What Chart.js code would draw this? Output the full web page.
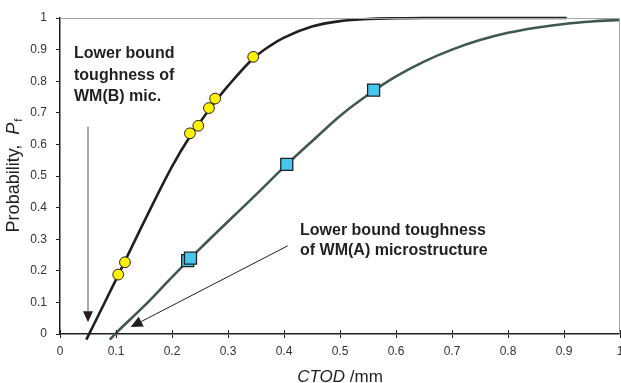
<!DOCTYPE html>
<html>
<head>
<meta charset="utf-8">
<script src="https://cdn.jsdelivr.net/npm/chart.js@4.4.0/dist/chart.umd.min.js"></script>
<style>
    html, body { margin: 0; padding: 0; background: #fff; }
</style>
</head>
<body>
<canvas id="grafico" width="621" height="383"></canvas>
<script>
// Curvas ajustadas: CTOD em mm, probabilidade Pf
const curvaB_x = [0.047, 0.10, 0.15, 0.20, 0.232, 0.25, 0.275, 0.30, 0.345, 0.375, 0.40, 0.45, 0.50, 0.55, 0.60, 0.65, 0.905];
const curvaB_p = [-0.018, 0.172, 0.355, 0.53, 0.625, 0.67, 0.73, 0.785, 0.872, 0.912, 0.938, 0.973, 0.99, 0.997, 0.999, 1.0, 1.0];
const curvaA_x = [0.089, 0.10, 0.15, 0.20, 0.25, 0.30, 0.35, 0.40, 0.45, 0.50, 0.55, 0.60, 0.65, 0.70, 0.75, 0.80, 0.85, 0.90, 0.95, 1.00];
const curvaA_p = [-0.018, 0.003, 0.088, 0.18, 0.27, 0.356, 0.441, 0.528, 0.61, 0.69, 0.757, 0.815, 0.862, 0.90, 0.93, 0.953, 0.969, 0.981, 0.989, 0.994];

// Resultados de ensaio
const pontosB_x = [0.104, 0.116, 0.232, 0.247, 0.266, 0.277, 0.345];
const pontosB_p = [0.188, 0.227, 0.635, 0.659, 0.715, 0.745, 0.877];
const pontosA_x = [0.228, 0.233, 0.405, 0.560];
const pontosA_p = [0.232, 0.240, 0.537, 0.772];

const rotulosX = ['0', '0.1', '0.2', '0.3', '0.4', '0.5', '0.6', '0.7', '0.8', '0.9', '1'];
const rotulosY = ['0', '0.1', '0.2', '0.3', '0.4', '0.5', '0.6', '0.7', '0.8', '0.9', '1'];

const FONTE = '"Liberation Sans", Arial, sans-serif';

const juntar = (xs, ys) => xs.map((x, i) => ({ x, y: ys[i] }));

// Anotações (em unidades de dados)
const notas = [
    { x: 0.025, y: 0.873, linhas: ['Lower bound', 'toughness of', 'WM(B) mic.'], passo: 21.4 },
    { x: 0.4286, y: 0.314, linhas: ['Lower bound toughness', 'of WM(A) microstructure'], passo: 20.7 }
];
const setas = [
    { de: [0.05, 0.656], ate: [0.05, 0.037], cor: '#8a8a8a', largura: 1.5, comp: 11, meia: 5 },
    { de: [0.4066, 0.279], ate: [0.126, 0.022], cor: '#231f20', largura: 1, comp: 12, meia: 5.5 }
];

function desenharSeta(ctx, x1, y1, x2, y2, s) {
    const ang = Math.atan2(y2 - y1, x2 - x1);
    const bx = x2 - s.comp * Math.cos(ang);
    const by = y2 - s.comp * Math.sin(ang);
    ctx.strokeStyle = s.cor;
    ctx.lineWidth = s.largura;
    ctx.beginPath();
    ctx.moveTo(x1, y1);
    ctx.lineTo(bx, by);
    ctx.stroke();
    ctx.fillStyle = '#231f20';
    ctx.beginPath();
    ctx.moveTo(x2, y2);
    ctx.lineTo(bx + s.meia * Math.sin(ang), by - s.meia * Math.cos(ang));
    ctx.lineTo(bx - s.meia * Math.sin(ang), by + s.meia * Math.cos(ang));
    ctx.closePath();
    ctx.fill();
}

const extras = {
    id: 'extras',
    afterDraw(chart) {
        const { ctx, chartArea: a, scales: { x, y } } = chart;
        ctx.save();

        // moldura cinza (topo e direita)
        ctx.strokeStyle = '#a6a6a6';
        ctx.lineWidth = 1;
        ctx.beginPath();
        ctx.moveTo(a.left, a.top + 0.5);
        ctx.lineTo(a.right - 0.5, a.top + 0.5);
        ctx.lineTo(a.right - 0.5, a.bottom);
        ctx.stroke();

        // marcas do eixo x atravessando o eixo
        ctx.strokeStyle = '#231f20';
        ctx.beginPath();
        x.ticks.forEach(t => {
            const px = Math.round(x.getPixelForValue(t.value)) + 0.5;
            ctx.moveTo(px, a.bottom - 4);
            ctx.lineTo(px, a.bottom);
        });
        ctx.stroke();

        // setas
        setas.forEach(s => {
            desenharSeta(ctx,
                x.getPixelForValue(s.de[0]), y.getPixelForValue(s.de[1]),
                x.getPixelForValue(s.ate[0]), y.getPixelForValue(s.ate[1]), s);
        });

        // textos
        ctx.fillStyle = '#231f20';
        ctx.font = 'bold 16px ' + FONTE;
        ctx.textAlign = 'left';
        ctx.textBaseline = 'alphabetic';
        notas.forEach(n => {
            const px = x.getPixelForValue(n.x);
            const py = y.getPixelForValue(n.y);
            n.linhas.forEach((l, i) => ctx.fillText(l, px, py + i * n.passo));
        });

        // título do eixo x: CTOD /mm
        ctx.fillStyle = '#231f20';
        const cx = (a.left + a.right) / 2;
        ctx.font = 'italic 17px ' + FONTE;
        const w1 = ctx.measureText('CTOD').width;
        ctx.font = '17px ' + FONTE;
        const w2 = ctx.measureText(' /mm').width;
        let sx = cx - (w1 + w2) / 2;
        ctx.font = 'italic 17px ' + FONTE;
        ctx.fillText('CTOD', sx, 382);
        ctx.font = '17px ' + FONTE;
        ctx.fillText(' /mm', sx + w1, 382);

        // título do eixo y: Probability, Pf
        const cy = (a.top + a.bottom) / 2;
        ctx.translate(19, cy);
        ctx.rotate(-Math.PI / 2);
        ctx.font = '18px ' + FONTE;
        const t1 = 'Probability,  ';
        const l1 = ctx.measureText(t1).width;
        ctx.font = 'italic 18px ' + FONTE;
        const l2 = ctx.measureText('P').width;
        ctx.font = '11px ' + FONTE;
        const l3 = ctx.measureText('f').width;
        let ox = -(l1 + l2 + l3) / 2;
        ctx.font = '18px ' + FONTE;
        ctx.fillText(t1, ox, 0);
        ctx.font = 'italic 18px ' + FONTE;
        ctx.fillText('P', ox + l1, 0);
        ctx.font = '11px ' + FONTE;
        ctx.fillText('f', ox + l1 + l2 + 1, 3);

        ctx.restore();
    }
};

new Chart(document.getElementById('grafico').getContext('2d'), {
    type: 'scatter',
    data: {
        datasets: [
            {
                label: 'WM(B) ensaios',
                data: juntar(pontosB_x, pontosB_p),
                pointStyle: 'circle',
                pointRadius: 5.4,
                backgroundColor: '#fff200',
                borderColor: '#231f20',
                borderWidth: 1
            },
            {
                label: 'WM(A) ensaios',
                data: juntar(pontosA_x, pontosA_p),
                pointStyle: 'rect',
                pointRadius: 8.5,
                backgroundColor: '#45c8f0',
                borderColor: '#231f20',
                borderWidth: 1.3
            },
            {
                label: 'WM(B) ajuste',
                data: juntar(curvaB_x, curvaB_p),
                showLine: true,
                pointRadius: 0,
                borderColor: '#231f20',
                borderWidth: 2.6,
                cubicInterpolationMode: 'monotone',
                clip: false
            },
            {
                label: 'WM(A) ajuste',
                data: juntar(curvaA_x, curvaA_p),
                showLine: true,
                pointRadius: 0,
                borderColor: '#3f5852',
                borderWidth: 2.6,
                cubicInterpolationMode: 'monotone',
                clip: false
            }
        ]
    },
    options: {
        responsive: false,
        animation: false,
        devicePixelRatio: 1,
        layout: { autoPadding: false, padding: { top: 18, right: 1, left: 0, bottom: 0 } },
        plugins: { legend: { display: false }, tooltip: { enabled: false } },
        scales: {
            x: {
                type: 'linear',
                min: 0,
                max: 1,
                afterBuildTicks: s => { s.ticks = rotulosX.map((_, i) => ({ value: i / 10 })); },
                ticks: {
                    callback: (v, i) => rotulosX[i],
                    color: '#333',
                    font: { family: FONTE, size: 12 },
                    padding: 6,
                    maxRotation: 0
                },
                grid: { drawOnChartArea: false, drawTicks: true, tickLength: 4, tickColor: '#231f20' },
                border: { color: '#231f20', width: 1.5 },
                afterFit: s => { s.height = 49; s.paddingLeft = 0; s.paddingRight = 0; }
            },
            y: {
                type: 'linear',
                min: 0,
                max: 1,
                afterBuildTicks: s => { s.ticks = rotulosY.map((_, i) => ({ value: i / 10 })); },
                ticks: {
                    callback: (v, i) => rotulosY[i],
                    color: '#333',
                    font: { family: FONTE, size: 12 },
                    padding: 9
                },
                grid: { drawOnChartArea: false, drawTicks: true, tickLength: 4, tickColor: '#231f20' },
                border: { color: '#231f20', width: 1.5 },
                afterFit: s => { s.width = 60; s.paddingTop = 0; s.paddingBottom = 0; }
            }
        }
    },
    plugins: [extras]
});
</script>
</body>
</html>
